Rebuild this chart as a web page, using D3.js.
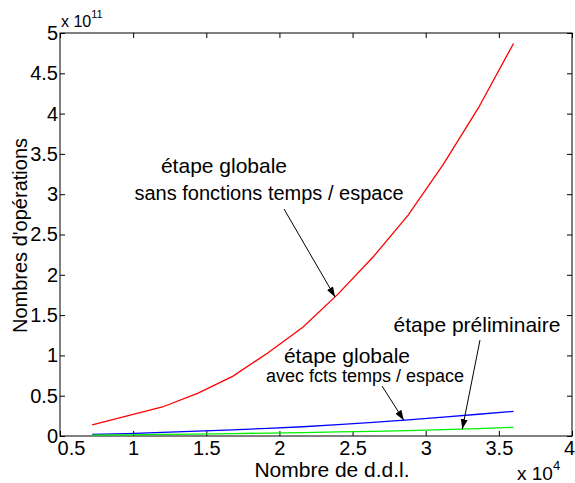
<!DOCTYPE html>
<html>
<head>
<meta charset="utf-8">
<script src="https://cdn.jsdelivr.net/npm/d3@7"></script>
<style>
  body { margin: 0; background: #fff; }
  svg { display: block; font-family: "Liberation Sans", Arial, sans-serif; }
</style>
</head>
<body>
<svg width="575" height="483"></svg>
<script>

// nombre de d.d.l. (x 10^4)
let ddl = [0.72, 0.96, 1.2, 1.44, 1.68, 1.92, 2.16, 2.4, 2.64, 2.88, 3.12, 3.36, 3.6]

// nombres d'operations (x 10^11)
let globaleSans = [0.137, 0.25, 0.36, 0.53, 0.74, 1.03, 1.35, 1.76, 2.22, 2.74, 3.37, 4.07, 4.87]
let globaleAvec = [0.02, 0.03, 0.045, 0.06, 0.075, 0.095, 0.115, 0.14, 0.17, 0.2, 0.235, 0.27, 0.305]
let preliminaire = [0.01, 0.014, 0.019, 0.024, 0.03, 0.036, 0.043, 0.05, 0.058, 0.067, 0.078, 0.092, 0.108]

let xTicks = [0.5, 1, 1.5, 2, 2.5, 3, 3.5, 4]
let yTicks = [0, 0.5, 1, 1.5, 2, 2.5, 3, 3.5, 4, 4.5, 5]

let svg = d3.select('svg'),
    width = +svg.attr('width'),
    height = +svg.attr('height')

let margin = {top: 33, right: 3, bottom: 47, left: 60}

let x = d3.scaleLinear().domain([0.5, 4]).range([margin.left, width - margin.right])
let y = d3.scaleLinear().domain([0, 5]).range([height - margin.bottom, margin.top])

let fmt = d3.format('~g')

// axes, ticks vers l'interieur
let gx = svg.append('g')
  .attr('transform', `translate(0,${y(0)})`)
  .call(d3.axisBottom(x).tickValues(xTicks).tickSize(-5).tickPadding(5).tickFormat(fmt))
let gy = svg.append('g')
  .attr('transform', `translate(${x(0.5)},0)`)
  .call(d3.axisLeft(y).tickValues(yTicks).tickSize(-5).tickPadding(2).tickFormat(fmt))
svg.append('g')
  .attr('transform', `translate(0,${y(5)})`)
  .call(d3.axisTop(x).tickValues(xTicks).tickSize(-5).tickFormat(''))
svg.append('g')
  .attr('transform', `translate(${x(4)},0)`)
  .call(d3.axisRight(y).tickValues(yTicks).tickSize(-5).tickFormat(''))

svg.selectAll('.domain').remove()
svg.selectAll('.tick line').attr('stroke', '#000')

gx.attr('font-family', null).attr('font-size', 20)
gy.attr('font-family', null).attr('font-size', 20)
gx.selectAll('text').attr('fill', '#000')
gy.selectAll('text').attr('fill', '#000')

// premier et dernier label x decales comme dans l'original
gx.selectAll('.tick text').filter(d => d === 0.5).attr('dx', 11)
gx.selectAll('.tick text').filter(d => d === 4).attr('dx', -3)

svg.append('rect')
  .attr('x', x(0.5)).attr('y', y(5))
  .attr('width', x(4) - x(0.5)).attr('height', y(0) - y(5))
  .attr('fill', 'none').attr('stroke', '#000').attr('stroke-width', 1)

// courbes
let line = d3.line()
  .x((d, i) => x(ddl[i]))
  .y(d => y(d))

let series = [
  {values: globaleSans, color: '#ff0000'},
  {values: globaleAvec, color: '#0000ff'},
  {values: preliminaire, color: '#00f000'}
]

svg.append('g')
  .selectAll('path')
  .data(series)
  .enter().append('path')
  .attr('d', d => line(d.values))
  .attr('fill', 'none')
  .attr('stroke', d => d.color)
  .attr('stroke-width', 1.3)

// exposants
let expY = svg.append('text')
  .attr('x', 61).attr('y', 27)
  .attr('font-size', 16)
expY.append('tspan').text('x 10')
expY.append('tspan').attr('dy', -9).attr('font-size', 11).text('11')

let expX = svg.append('text')
  .attr('x', 517).attr('y', 480)
  .attr('font-size', 19)
expX.append('tspan').text('x 10')
expX.append('tspan').attr('dy', -10).attr('font-size', 13).text('4')

// titres des axes
svg.append('text')
  .attr('x', 332).attr('y', 477)
  .attr('text-anchor', 'middle')
  .attr('font-size', 21)
  .text('Nombre de d.d.l.')

svg.append('text')
  .attr('transform', `translate(27,${(y(0) + y(5)) / 2 + 1}) rotate(-90)`)
  .attr('text-anchor', 'middle')
  .attr('font-size', 20)
  .text("Nombres d'opérations")

// annotations
svg.append('defs').append('marker')
  .attr('id', 'head')
  .attr('viewBox', '0 0 10 10')
  .attr('refX', 10).attr('refY', 5)
  .attr('markerWidth', 10).attr('markerHeight', 10)
  .attr('markerUnits', 'userSpaceOnUse')
  .attr('orient', 'auto')
  .append('path')
  .attr('d', 'M0,1.5 L10,5 L0,8.5 Z')
  .attr('fill', '#000')

let labels = [
  {text: 'étape globale', x: 224, y: 173, size: 21},
  {text: 'sans fonctions temps / espace', x: 269, y: 200, size: 20},
  {text: 'étape globale', x: 347, y: 363, size: 21},
  {text: 'avec fcts temps / espace', x: 365, y: 382, size: 18},
  {text: 'étape préliminaire', x: 477, y: 332, size: 21}
]

svg.append('g')
  .selectAll('text')
  .data(labels)
  .enter().append('text')
  .attr('x', d => d.x).attr('y', d => d.y)
  .attr('text-anchor', 'middle')
  .attr('font-size', d => d.size)
  .text(d => d.text)

// fleches : depart sous le texte, pointe sur la courbe
let arrows = [
  {x0: 284, y0: 209, at: 2.38, values: globaleSans},
  {x0: 382, y0: 386, at: 2.85, values: globaleAvec},
  {x0: 480, y0: 340, at: 3.25, values: preliminaire}
]

function valueAt(values, v) {
  let i = d3.bisectLeft(ddl, v)
  i = Math.max(1, Math.min(ddl.length - 1, i))
  let t = (v - ddl[i - 1]) / (ddl[i] - ddl[i - 1])
  return values[i - 1] + t * (values[i] - values[i - 1])
}

svg.append('g')
  .selectAll('line')
  .data(arrows)
  .enter().append('line')
  .attr('x1', d => d.x0).attr('y1', d => d.y0)
  .attr('x2', d => x(d.at)).attr('y2', d => y(valueAt(d.values, d.at)))
  .attr('stroke', '#000').attr('stroke-width', 1)
  .attr('marker-end', 'url(#head)')

</script>
</body>
</html>
